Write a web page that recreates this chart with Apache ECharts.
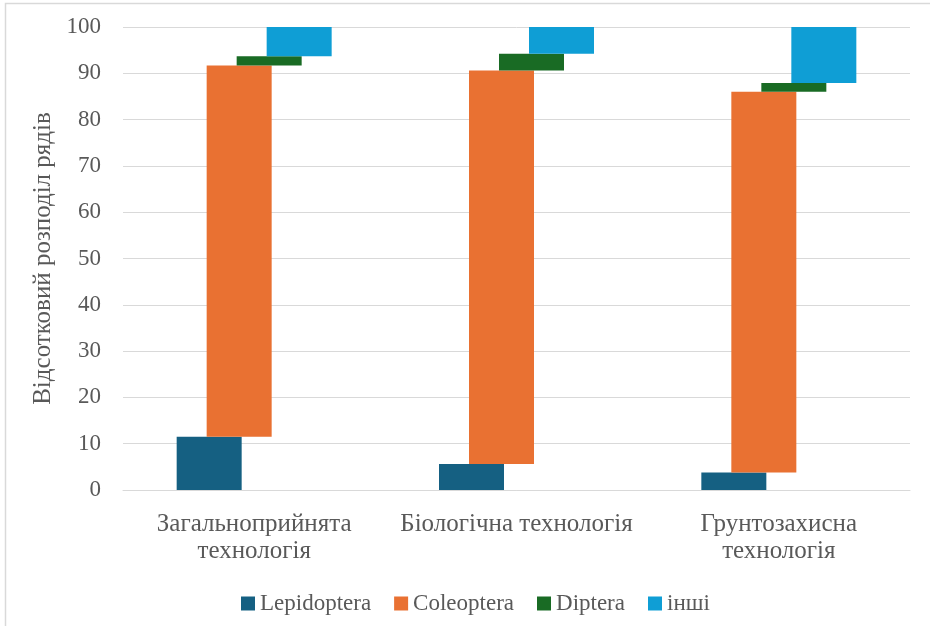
<!DOCTYPE html>
<html>
<head>
<meta charset="utf-8">
<script src="https://cdn.jsdelivr.net/npm/echarts@6/dist/echarts.min.js"></script>
<style>html,body{margin:0;padding:0;background:#fff;}#c{width:930px;height:626px;}</style>
</head>
<body>
<div id="c"></div>
<script>
const categories = ['Загальноприйнята технологія', 'Біологічна технологія', 'Грунтозахисна технологія'];
const seriesNames = ['Lepidoptera', 'Coleoptera', 'Diptera', 'інші'];
const lepidoptera = [11.5, 5.6, 3.8];
const coleoptera = [80.2, 85.0, 82.2];
const diptera = [2.0, 3.6, 1.9];
const other = [6.3, 5.8, 12.1];
const yTicks = [0, 10, 20, 30, 40, 50, 60, 70, 80, 90, 100];
const colors = ['#156082', '#E97132', '#196B24', '#0F9ED5'];

const values = [lepidoptera, coleoptera, diptera, other];
const font = 'Liberation Serif, Times New Roman, serif';
const textColor = '#595959';

const series = [];
let cumulative = categories.map(() => 0);
values.forEach((vals, i) => {
  const base = cumulative.slice();
  series.push({
    name: '_base' + i, type: 'bar', stack: 's' + i,
    data: base, barWidth: 65, barGap: '-53.85%',
    itemStyle: { color: 'transparent' }, silent: true,
    emphasis: { disabled: true }
  });
  series.push({
    name: seriesNames[i], type: 'bar', stack: 's' + i,
    data: vals, barWidth: 65, barGap: '-53.85%',
    itemStyle: { color: colors[i] }
  });
  cumulative = cumulative.map((c, k) => c + vals[k]);
});

const chart = echarts.init(document.getElementById('c'), null, { renderer: 'canvas' });
chart.setOption({
  animation: false,
  backgroundColor: '#fff',
  grid: { left: 123, right: 20, top: 27, bottom: 136 },
  legend: {
    data: seriesNames, left: 236, top: 587, icon: 'rect',
    itemWidth: 14, itemHeight: 14, itemGap: 23, itemStyle: { borderWidth: 0 },
    textStyle: { fontFamily: font, fontSize: 23, color: textColor }
  },
  xAxis: {
    type: 'category', data: categories,
    axisLine: { lineStyle: { color: '#d9d9d9', width: 1 } },
    axisTick: { show: false },
    axisLabel: {
      fontFamily: font, fontSize: 25, color: textColor, margin: 21,
      lineHeight: 27, interval: 0,
      formatter: v => v.length > 22 ? v.replace(' ', '\n') : v
    }
  },
  yAxis: {
    type: 'value', min: yTicks[0], max: yTicks[yTicks.length - 1], interval: 10,
    name: 'Відсотковий розподіл рядів', nameLocation: 'middle', nameGap: 63,
    nameTextStyle: { fontFamily: font, fontSize: 25, color: textColor },
    axisLine: { show: false }, axisTick: { show: false },
    axisLabel: { fontFamily: font, fontSize: 23, color: textColor, margin: 22 },
    splitLine: { lineStyle: { color: '#d9d9d9', width: 1 } }
  },
  graphic: [
    { type: 'polyline', shape: { points: [[5.5, 626], [5.5, 3.5], [930, 3.5]] },
      style: { stroke: '#d9d9d9', lineWidth: 1.5, fill: null }, silent: true }
  ],
  series: series
});
</script>
</body>
</html>
